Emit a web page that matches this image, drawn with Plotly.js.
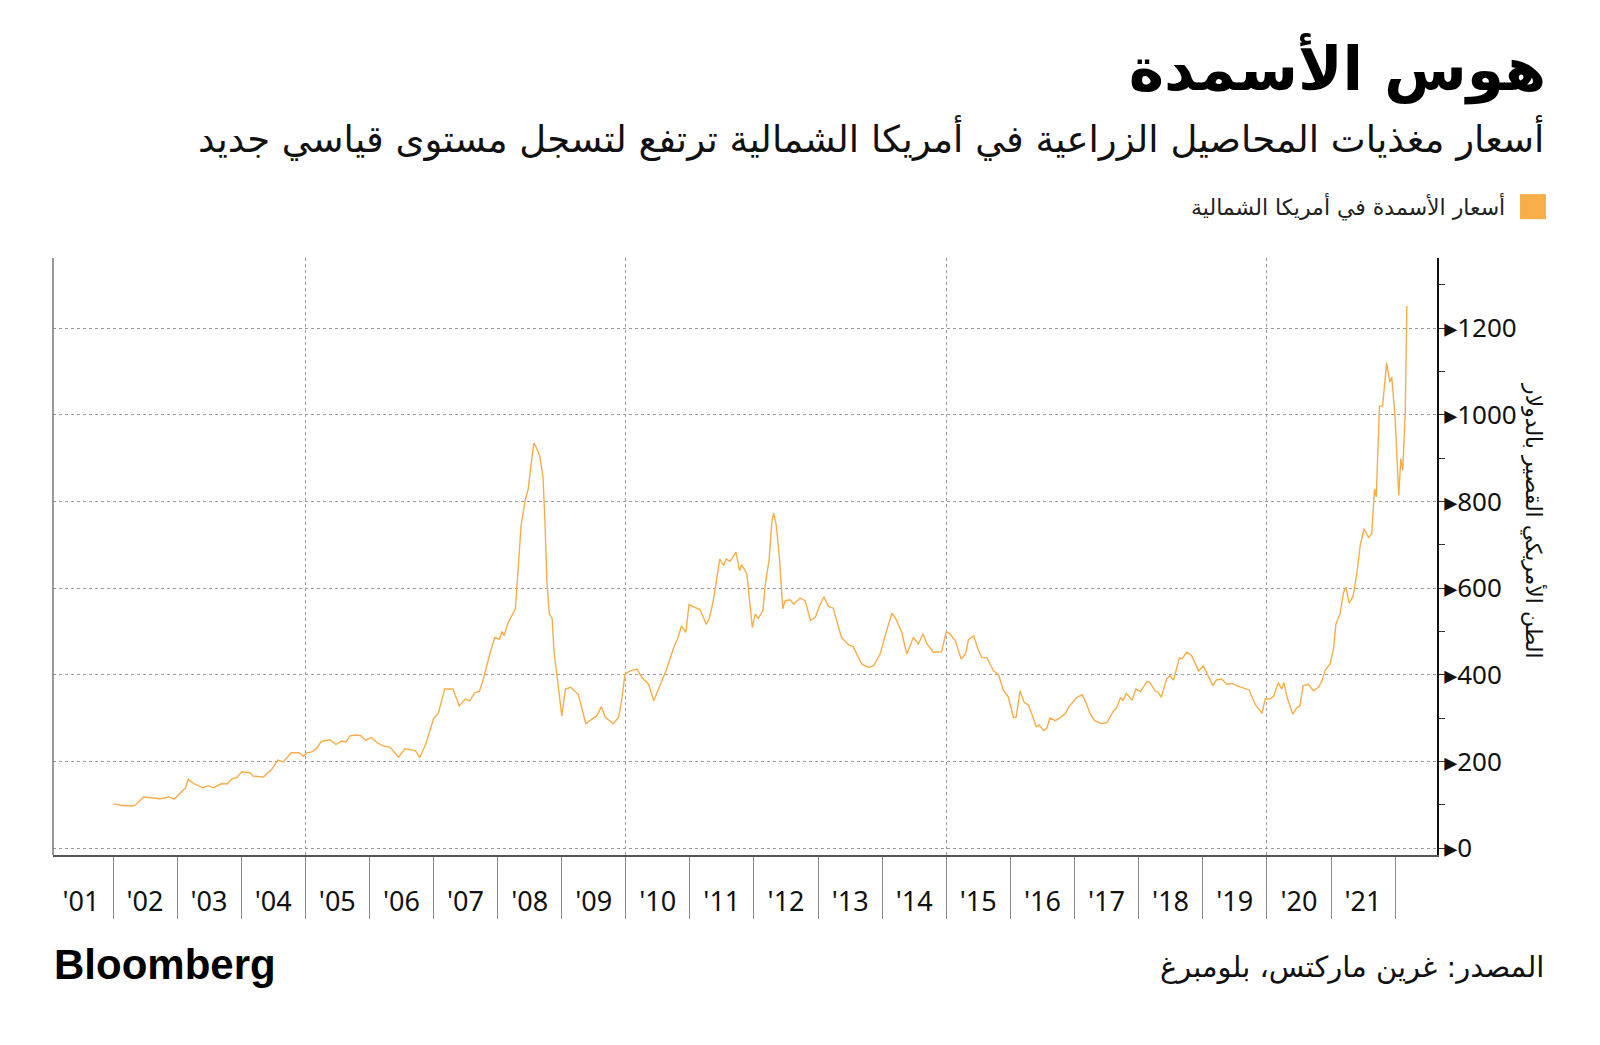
<!DOCTYPE html>
<html>
<head>
<meta charset="utf-8">
<script src="https://cdn.plot.ly/plotly-3.0.1.min.js"></script>
<style>
  html, body { margin: 0; padding: 0; background: #fff; }
  #chart { width: 1600px; height: 1045px; }
</style>
</head>
<body>
<div id="chart"></div>
<script>
// North America fertilizer price index, USD per short ton
var dates = [
  '2002-01-04', '2002-02-14', '2002-04-19', '2002-05-07', '2002-06-24', '2002-08-18', '2002-09-27', '2002-11-14', '2002-12-16',
  '2003-02-18', '2003-03-06', '2003-04-05', '2003-05-28', '2003-06-27', '2003-07-26', '2003-09-13', '2003-10-12', '2003-11-11', '2003-12-09',
  '2004-01-04', '2004-02-21', '2004-03-09', '2004-05-07', '2004-05-25', '2004-06-24', '2004-07-28', '2004-08-28', '2004-10-12', '2004-11-25', '2004-12-20',
  '2005-01-12', '2005-02-07', '2005-03-06', '2005-04-01', '2005-05-21', '2005-06-24', '2005-07-26', '2005-08-21', '2005-09-13', '2005-10-12', '2005-11-11', '2005-12-09',
  '2006-01-12', '2006-02-14', '2006-03-20', '2006-04-28', '2006-06-16', '2006-07-22', '2006-09-20', '2006-10-15', '2006-11-18',
  '2007-01-01', '2007-01-29', '2007-03-06', '2007-04-22', '2007-05-28', '2007-07-01', '2007-07-26', '2007-08-25', '2007-09-20', '2007-10-12', '2007-11-18', '2007-12-16',
  '2008-01-12', '2008-01-26', '2008-02-07', '2008-03-02', '2008-04-12', '2008-04-28', '2008-05-14', '2008-06-06', '2008-06-24', '2008-07-08', '2008-07-26', '2008-08-07', '2008-08-28', '2008-09-16', '2008-09-27', '2008-10-08', '2008-10-22', '2008-11-07', '2008-11-18', '2008-12-13',
  '2009-01-01', '2009-01-22', '2009-02-21', '2009-04-05', '2009-04-28', '2009-05-18', '2009-06-16', '2009-07-19', '2009-08-14', '2009-09-06', '2009-10-22', '2009-11-21', '2009-12-09', '2009-12-27',
  '2010-01-26', '2010-03-06', '2010-04-01', '2010-05-10', '2010-06-09', '2010-07-15', '2010-08-21', '2010-10-01', '2010-10-26', '2010-11-14', '2010-12-09', '2010-12-27',
  '2011-01-29', '2011-02-28', '2011-04-05', '2011-04-22', '2011-05-14', '2011-06-20', '2011-07-12', '2011-07-26', '2011-08-18', '2011-09-20', '2011-10-12', '2011-10-22', '2011-11-21', '2011-12-23',
  '2012-01-08', '2012-01-26', '2012-02-21', '2012-03-06', '2012-03-27', '2012-04-12', '2012-04-22', '2012-05-07', '2012-05-25', '2012-06-13', '2012-06-27', '2012-07-26', '2012-08-14', '2012-09-20', '2012-10-19', '2012-11-18', '2012-12-16',
  '2013-01-08', '2013-02-03', '2013-02-28', '2013-03-27', '2013-04-15', '2013-05-14', '2013-06-24', '2013-07-19', '2013-09-06', '2013-10-15', '2013-11-14', '2013-12-20',
  '2014-01-26', '2014-02-25', '2014-03-20', '2014-04-22', '2014-05-21', '2014-06-27', '2014-07-26', '2014-08-21', '2014-09-13', '2014-10-19', '2014-12-05',
  '2015-01-01', '2015-01-22', '2015-02-21', '2015-03-27', '2015-04-22', '2015-05-07', '2015-06-06', '2015-06-27', '2015-07-22', '2015-08-21', '2015-09-27', '2015-10-26', '2015-11-21', '2015-12-20',
  '2016-01-19', '2016-02-03', '2016-02-25', '2016-03-20', '2016-04-12', '2016-05-10', '2016-05-28', '2016-06-13', '2016-07-08', '2016-07-26', '2016-08-14', '2016-09-13', '2016-10-12', '2016-11-11', '2016-11-29',
  '2017-01-15', '2017-02-14', '2017-03-09', '2017-04-01', '2017-04-26', '2017-06-06', '2017-07-05', '2017-08-11', '2017-08-28', '2017-09-20', '2017-10-04', '2017-10-22', '2017-11-25', '2017-12-16',
  '2018-01-12', '2018-02-18', '2018-03-06', '2018-04-05', '2018-04-22', '2018-05-10', '2018-06-09', '2018-06-27', '2018-07-19', '2018-08-21', '2018-09-06', '2018-10-01', '2018-10-30', '2018-12-09',
  '2019-01-04', '2019-01-26', '2019-02-28', '2019-03-20', '2019-04-19', '2019-05-18', '2019-06-16', '2019-07-12', '2019-08-21', '2019-09-23', '2019-10-26', '2019-12-05', '2019-12-23',
  '2020-01-19', '2020-02-10', '2020-03-06', '2020-03-27', '2020-04-08', '2020-04-26', '2020-05-28', '2020-06-20', '2020-07-08', '2020-07-26', '2020-08-25', '2020-09-23', '2020-10-22', '2020-11-11', '2020-11-29', '2020-12-27',
  '2021-01-15', '2021-01-29', '2021-02-21', '2021-03-13', '2021-03-27', '2021-04-15', '2021-05-07', '2021-05-28', '2021-06-16', '2021-07-08', '2021-08-03', '2021-08-21', '2021-09-06', '2021-09-16', '2021-10-04', '2021-10-22', '2021-11-14', '2021-12-02', '2021-12-13',
  '2022-01-01', '2022-01-22', '2022-02-03', '2022-02-14', '2022-02-28', '2022-03-09'
];
var prices = [
  102, 99, 97, 99, 118, 116, 114, 118, 113,
  139, 159, 149, 139, 144, 139, 149, 148, 160, 163,
  176, 174, 166, 164, 171, 182, 203, 199, 220, 220, 212,
  220, 222, 230, 246, 250, 239, 247, 245, 259, 261, 260, 249,
  255, 243, 236, 233, 210, 229, 225, 209, 240,
  298, 312, 367, 367, 328, 344, 340, 359, 362, 390, 448, 486,
  482, 500, 490, 521, 552, 648, 744, 802, 829, 879, 935, 926, 906, 856, 756, 617, 540, 530, 452, 371,
  305, 367, 371, 355, 317, 287, 296, 305, 326, 302, 287, 302, 344, 402,
  409, 413, 394, 379, 340, 374, 413, 463, 486, 513, 498, 562,
  556, 550, 516, 531, 570, 667, 652, 667, 662, 683, 640, 654, 634, 509,
  540, 530, 548, 610, 664, 752, 773, 746, 671, 552, 571, 573, 563, 577, 571, 525, 533,
  558, 580, 558, 554, 525, 486, 469, 465, 425, 417, 421, 448,
  502, 542, 529, 498, 448, 486, 471, 494, 471, 452, 453,
  500, 494, 479, 436, 450, 481, 490, 463, 440, 439, 409, 400, 365, 349,
  301, 302, 363, 336, 331, 301, 280, 284, 271, 276, 300, 294, 301, 311, 326,
  348, 354, 333, 309, 294, 287, 290, 317, 323, 348, 340, 357, 341, 367,
  361, 385, 382, 363, 360, 348, 390, 398, 388, 439, 437, 452, 444, 409,
  421, 401, 375, 388, 390, 378, 380, 375, 369, 365, 332, 311, 344,
  344, 351, 382, 367, 382, 348, 309, 324, 328, 375, 378, 363, 371, 386, 411, 425,
  459, 517, 540, 590, 602, 565, 582, 633, 698, 737, 717, 725, 829, 810, 1020, 1020, 1120, 1076, 1087,
  995, 814, 899, 872, 1003, 1251
];

// axes: year boundaries, labels at mid-year, dotted grid every five years
var gridYears = ['2005-01-01', '2010-01-01', '2015-01-01', '2020-01-01'];
var yearMids = ['2001-07-02', '2002-07-02', '2003-07-02', '2004-07-02', '2005-07-02', '2006-07-02', '2007-07-02',
  '2008-07-02', '2009-07-02', '2010-07-02', '2011-07-02', '2012-07-02', '2013-07-02', '2014-07-02',
  '2015-07-02', '2016-07-02', '2017-07-02', '2018-07-02', '2019-07-02', '2020-07-02', '2021-07-02'];
var yearLabels = ["'01", "'02", "'03", "'04", "'05", "'06", "'07", "'08", "'09", "'10", "'11",
  "'12", "'13", "'14", "'15", "'16", "'17", "'18", "'19", "'20", "'21"];
var yTicks = [0, 200, 400, 600, 800, 1000, 1200];

var seriesName = 'أسعار الأسمدة في أمريكا الشمالية';
var lineColor = '#F7AE4A';
var xRange = ['2001-01-24', '2022-08-28'];

var arabic = 'DejaVu Sans, sans-serif';
var latin = 'Noto Sans, DejaVu Sans, sans-serif';

var data = [
  {
    x: dates,
    y: prices,
    name: seriesName,
    type: 'scatter',
    mode: 'lines',
    line: {color: lineColor, width: 1.4},
    showlegend: false,
    hoverinfo: 'x+y'
  },
  // empty trace so the label axis (x2) gets drawn
  {
    x: xRange,
    y: [null, null],
    xaxis: 'x2',
    yaxis: 'y',
    type: 'scatter',
    mode: 'lines',
    showlegend: false,
    hoverinfo: 'skip'
  }
];

var layout = {
  width: 1600,
  height: 1045,
  paper_bgcolor: '#fff',
  plot_bgcolor: '#fff',
  margin: {l: 53, r: 163, t: 258, b: 190},
  title: {
    text: 'هوس الأسمدة',
    font: {family: arabic, size: 60, color: '#000', weight: 'bold'},
    xref: 'container', x: 0.9663, xanchor: 'right',
    yref: 'container', y: 0.934, yanchor: 'middle'
  },
  xaxis: {
    type: 'date',
    range: xRange,
    tickmode: 'array',
    tickvals: gridYears,
    showticklabels: false,
    ticks: 'outside', ticklen: 62, tickcolor: '#8a8a8a', tickwidth: 1,
    showgrid: true, gridcolor: '#9a9a9a', griddash: 'dot', gridwidth: 1,
    showline: true, linecolor: '#555', linewidth: 1.5,
    zeroline: false,
    minor: {tickmode: 'linear', tick0: '2002-01-01', dtick: 'M12', ticks: 'outside', ticklen: 62, tickcolor: '#8a8a8a', tickwidth: 1, showgrid: false}
  },
  xaxis2: {
    type: 'date',
    range: xRange,
    overlaying: 'x',
    anchor: 'y',
    side: 'bottom',
    tickmode: 'array',
    tickvals: yearMids,
    ticktext: yearLabels,
    ticks: '',
    ticklabelstandoff: 28,
    tickfont: {family: latin, size: 27, color: '#111'},
    showgrid: false, showline: false, zeroline: false
  },
  yaxis: {
    side: 'right',
    range: [-16, 1362],
    tickmode: 'array',
    tickvals: yTicks,
    ticktext: yTicks.map(function (v) { return '▸' + v; }),
    ticks: '',
    tickfont: {family: latin, size: 26, color: '#111'},
    showgrid: true, gridcolor: '#9a9a9a', griddash: 'dot', gridwidth: 1,
    showline: true, linecolor: '#111', linewidth: 2,
    zeroline: false,
    minor: {tickmode: 'linear', tick0: 0, dtick: 100, ticks: 'outside', ticklen: 6, tickcolor: '#333', tickwidth: 1, showgrid: false}
  },
  shapes: [
    // left frame line
    {type: 'line', xref: 'paper', yref: 'paper', x0: 0, x1: 0, y0: 0, y1: 1, line: {color: '#777', width: 1.5}},
    // legend swatch
    {type: 'rect', xref: 'paper', yref: 'paper', x0: 1.060, x1: 1.0787, y0: 1.065, y1: 1.107, fillcolor: '#F9AE48', line: {width: 0}}
  ],
  annotations: [
    {text: 'أسعار مغذيات المحاصيل الزراعية في أمريكا الشمالية ترتفع لتسجل مستوى قياسي جديد',
      xref: 'paper', yref: 'paper', x: 1.0788, y: 1.201, xanchor: 'right', yanchor: 'middle',
      showarrow: false, font: {family: arabic, size: 37, color: '#111'}},
    {text: seriesName,
      xref: 'paper', yref: 'paper', x: 1.0507, y: 1.0854, xanchor: 'right', yanchor: 'middle',
      showarrow: false, font: {family: arabic, size: 22, color: '#222'}},
    {text: 'الطن الأمريكي القصير بالدولار',
      xref: 'paper', yref: 'paper', x: 1.0701, y: 0.561, xanchor: 'center', yanchor: 'middle',
      textangle: 90, showarrow: false, font: {family: arabic, size: 22, color: '#111'}},
    {text: 'المصدر: غرين ماركتس، بلومبرغ',
      xref: 'paper', yref: 'paper', x: 1.0788, y: -0.1876, xanchor: 'right', yanchor: 'middle',
      showarrow: false, font: {family: arabic, size: 29, color: '#111'}},
    {text: '<b>Bloomberg</b>',
      xref: 'paper', yref: 'paper', x: -0.001, y: -0.184, xanchor: 'left', yanchor: 'middle',
      showarrow: false, font: {family: 'Liberation Sans, Arial, sans-serif', size: 42, color: '#000'}}
  ]
};

Plotly.newPlot('chart', data, layout, {staticPlot: true, displayModeBar: false});
</script>
</body>
</html>
